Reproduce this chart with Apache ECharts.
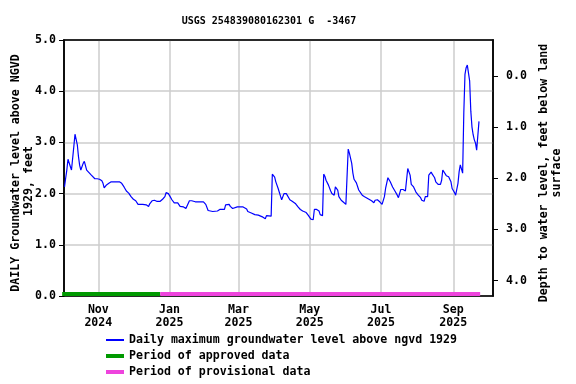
<!DOCTYPE html>
<html>
<head>
<meta charset="utf-8">
<script src="https://cdn.jsdelivr.net/npm/echarts@6/dist/echarts.min.js"></script>
<style>html,body{margin:0;padding:0;background:#fff}#c{width:576px;height:384px}</style>
</head>
<body>
<div id="c"></div>
<script>
const titleText = 'USGS 254839080162301 G  -3467';
const leftAxisLines = ['DAILY Groundwater level above NGVD', '1929, feet'];
const rightAxisName = 'Depth to water level, feet below land\nsurface';
const seriesName = 'Daily maximum groundwater level above ngvd 1929';
const approvedName = 'Period of approved data';
const provisionalName = 'Period of provisional data';

const dates = [
'2024-10-03','2024-10-04','2024-10-05','2024-10-06','2024-10-07','2024-10-08','2024-10-09','2024-10-10',
'2024-10-11','2024-10-12','2024-10-13','2024-10-14','2024-10-15','2024-10-16','2024-10-17','2024-10-18',
'2024-10-19','2024-10-20','2024-10-21','2024-10-22','2024-10-24','2024-10-26','2024-10-27','2024-10-29',
'2024-10-31','2024-11-02','2024-11-04','2024-11-05','2024-11-06','2024-11-08','2024-11-10','2024-11-12',
'2024-11-16','2024-11-19','2024-11-21','2024-11-23','2024-11-25','2024-11-27','2024-11-29','2024-12-01',
'2024-12-03','2024-12-05','2024-12-09','2024-12-12','2024-12-14','2024-12-15','2024-12-17','2024-12-19',
'2024-12-21','2024-12-24','2024-12-26','2024-12-28','2024-12-29','2024-12-31','2025-01-01','2025-01-02',
'2025-01-03','2025-01-05','2025-01-08','2025-01-10','2025-01-13','2025-01-15','2025-01-16','2025-01-18',
'2025-01-20','2025-01-23','2025-01-27','2025-01-30','2025-02-01','2025-02-03','2025-02-04','2025-02-07',
'2025-02-11','2025-02-13','2025-02-17','2025-02-18','2025-02-21','2025-02-22','2025-02-24','2025-02-25',
'2025-02-28','2025-03-05','2025-03-08','2025-03-09','2025-03-12','2025-03-15','2025-03-18','2025-03-20',
'2025-03-22','2025-03-24','2025-03-25','2025-03-29','2025-03-30','2025-04-01','2025-04-02','2025-04-04',
'2025-04-06','2025-04-07','2025-04-09','2025-04-11','2025-04-12','2025-04-14','2025-04-16','2025-04-19',
'2025-04-21','2025-04-23','2025-04-25','2025-04-28','2025-04-30','2025-05-02','2025-05-04','2025-05-05',
'2025-05-07','2025-05-09','2025-05-10','2025-05-12','2025-05-13','2025-05-14','2025-05-15','2025-05-17',
'2025-05-19','2025-05-20','2025-05-22','2025-05-23','2025-05-24','2025-05-25','2025-05-26','2025-05-28',
'2025-05-30','2025-06-01','2025-06-02','2025-06-03','2025-06-04','2025-06-05','2025-06-06','2025-06-07',
'2025-06-08','2025-06-10','2025-06-12','2025-06-13','2025-06-15','2025-06-17','2025-06-20','2025-06-23',
'2025-06-25','2025-06-26','2025-06-28','2025-06-30','2025-07-02','2025-07-03','2025-07-04','2025-07-05',
'2025-07-06','2025-07-07','2025-07-08','2025-07-09','2025-07-11','2025-07-13','2025-07-15','2025-07-16',
'2025-07-17','2025-07-18','2025-07-20','2025-07-22','2025-07-23','2025-07-24','2025-07-25','2025-07-26',
'2025-07-27','2025-07-29','2025-07-31','2025-08-02','2025-08-04','2025-08-05','2025-08-07','2025-08-08',
'2025-08-10','2025-08-11','2025-08-13','2025-08-14','2025-08-16','2025-08-17','2025-08-19','2025-08-21',
'2025-08-22','2025-08-23','2025-08-24','2025-08-26','2025-08-28','2025-08-29','2025-08-30','2025-08-31',
'2025-09-02','2025-09-03','2025-09-04','2025-09-05','2025-09-06','2025-09-07','2025-09-08','2025-09-09',
'2025-09-10','2025-09-11','2025-09-12','2025-09-13','2025-09-14','2025-09-15','2025-09-16','2025-09-17',
'2025-09-18','2025-09-19','2025-09-20','2025-09-21','2025-09-22','2025-09-23'
];
const levels = [
2.13,2.30,2.46,2.67,2.66,2.53,2.46,2.43,
2.92,3.16,3.13,2.95,2.72,2.55,2.46,2.49,
2.59,2.63,2.60,2.46,2.41,2.36,2.33,2.29,
2.29,2.28,2.25,2.20,2.11,2.17,2.20,2.23,
2.23,2.23,2.20,2.13,2.05,2.01,1.94,1.89,
1.86,1.79,1.79,1.78,1.75,1.80,1.86,1.87,
1.85,1.85,1.89,1.94,2.02,2.00,1.96,1.93,
1.88,1.82,1.82,1.75,1.74,1.71,1.73,1.86,
1.86,1.84,1.84,1.84,1.79,1.67,1.65,1.65,
1.66,1.69,1.69,1.78,1.79,1.75,1.71,1.74,
1.74,1.74,1.70,1.65,1.62,1.59,1.58,1.56,
1.54,1.51,1.57,1.56,2.38,2.32,2.23,2.10,
1.95,1.88,2.00,2.00,1.97,1.88,1.85,1.80,
1.74,1.69,1.66,1.63,1.57,1.50,1.49,1.69,
1.69,1.66,1.59,1.57,2.38,2.34,2.26,2.17,
2.05,2.00,1.97,2.13,2.16,2.07,1.94,1.87,
1.83,1.79,1.77,2.87,2.79,2.82,2.59,2.40,
2.28,2.21,2.07,2.05,1.97,1.94,1.90,1.86,
1.82,1.87,1.88,1.84,1.79,1.77,1.94,2.10,
2.11,2.31,2.33,2.23,2.13,2.05,1.97,1.92,
2.00,2.08,2.08,2.05,2.05,2.49,2.48,2.36,
2.18,2.13,2.03,1.97,1.92,1.87,1.85,1.94,
1.94,2.36,2.42,2.38,2.31,2.23,2.18,2.18,
2.26,2.46,2.47,2.35,2.33,2.31,2.23,2.10,
2.02,1.97,2.00,2.20,2.43,2.56,2.56,2.40,
3.58,4.33,4.46,4.51,4.51,4.20,3.61,3.30,
3.15,3.05,2.99,2.85,2.87,3.41
];

const approvedPeriod = ['2024-10-01', '2024-12-24'];
const provisionalPeriod = ['2024-12-24', '2025-09-24'];

const xRange = ['2024-10-02 14:00:00', '2025-10-05 00:00:00'];
const xTickDates = ['2024-11-01','2025-01-01','2025-03-01','2025-05-01','2025-07-01','2025-09-01'];
const xTickLabels = ['Nov\n2024','Jan\n2025','Mar\n2025','May\n2025','Jul\n2025','Sep\n2025'];
const leftTicks = [0, 1, 2, 3, 4, 5];
const rightTicks = [0, 1, 2, 3, 4];
const depthOffset = 4.30; // depth = landSurface - level

const parse = s => +echarts.number.parseDate(s);
const xTickVals = xTickDates.map(parse);

const FONT = 'DejaVu Sans Mono';
const txt = { fontFamily: FONT, fontWeight: 'bold', fontSize: 11.6, color: '#000' };

const chart = echarts.init(document.getElementById('c'), null, { renderer: 'canvas' });
chart.setOption({
  animation: false,
  backgroundColor: '#fff',
  title: {
    text: titleText, left: 264, top: 11, textAlign: 'center',
    textStyle: { fontFamily: FONT, fontWeight: 'bold', fontSize: 10, color: '#000' }
  },
  grid: {
    left: 64, right: 83, top: 40, bottom: 88, show: true, borderColor: '#000', borderWidth: 1.5,
    backgroundColor: 'transparent', containLabel: false, outerBoundsMode: 'none'
  },
  legend: [
    { data: [seriesName], orient: 'vertical', left: 106, top: 334, itemWidth: 18, itemHeight: 2, icon: 'rect', textStyle: txt, padding: 0 },
    { data: [approvedName], orient: 'vertical', left: 106, top: 350, itemWidth: 18, itemHeight: 4, icon: 'rect', textStyle: txt, padding: 0 },
    { data: [provisionalName], orient: 'vertical', left: 106, top: 366, itemWidth: 18, itemHeight: 4, icon: 'rect', textStyle: txt, padding: 0 }
  ],
  xAxis: [
    {
      type: 'value', position: 'bottom',
      min: parse(xRange[0]), max: parse(xRange[1]),
      axisLine: { onZero: false, lineStyle: { color: '#000', width: 1.5 } },
      axisTick: { show: true, inside: true, length: 3, customValues: xTickVals, lineStyle: { color: '#000' } },
      splitLine: { show: true, lineStyle: { color: '#cccccc', width: 1.5 } },
      axisLabel: {
        customValues: xTickVals, margin: 7, lineHeight: 13, ...txt,
        formatter: function (v) { const i = xTickVals.indexOf(v); return i >= 0 ? xTickLabels[i] : ''; }
      }
    },
    {
      type: 'value', position: 'top',
      min: parse(xRange[0]), max: parse(xRange[1]),
      axisLine: { show: true, onZero: false, lineStyle: { color: '#000', width: 1.5 } },
      axisTick: { show: false }, axisLabel: { show: false }, splitLine: { show: false }
    }
  ],
  yAxis: [
    {
      type: 'value', min: 0, max: 5, interval: 1, position: 'left',
      name: '{a|' + leftAxisLines[0] + '}\n{b|' + leftAxisLines[1] + '}',
      nameLocation: 'middle', nameRotate: 90, nameGap: 29, nameMoveOverlap: false,
      nameTextStyle: {
        ...txt, lineHeight: 13, padding: [0, 10, 0, 0],
        rich: {
          a: { ...txt, lineHeight: 13 },
          b: { ...txt, lineHeight: 13, padding: [0, 16, 0, 0] }
        }
      },
      axisLine: { show: true, onZero: false, lineStyle: { color: '#000', width: 1.5 } },
      axisTick: { show: true, length: 5, lineStyle: { color: '#000' } },
      splitLine: { show: true, lineStyle: { color: '#cccccc', width: 1.5 } },
      axisLabel: { ...txt, margin: 8, formatter: v => leftTicks.includes(v) ? v.toFixed(1) : '' }
    },
    {
      type: 'value', min: depthOffset - 5, max: depthOffset, inverse: true, position: 'right',
      name: rightAxisName, nameLocation: 'middle', nameRotate: 90, nameGap: 44,
      nameTextStyle: { ...txt, lineHeight: 13, padding: [0, 10, 0, 0] },
      axisLine: { show: true, onZero: false, lineStyle: { color: '#000', width: 1.5 } },
      axisTick: { show: true, length: 5, customValues: rightTicks, lineStyle: { color: '#000' } },
      splitLine: { show: false },
      axisLabel: { ...txt, margin: 13, customValues: rightTicks, formatter: v => v.toFixed(1) }
    },
    { type: 'value', show: false, min: -0.04, max: 4.96 }
  ],
  series: [
    {
      name: seriesName, type: 'line', xAxisIndex: 0, yAxisIndex: 0,
      data: dates.map((d, i) => [parse(d), levels[i]]),
      showSymbol: false, symbol: 'none',
      lineStyle: { color: '#0000ff', width: 1.2 }, itemStyle: { color: '#0000ff' }, z: 3
    },
    {
      name: approvedName, type: 'line', yAxisIndex: 2,
      data: approvedPeriod.map(d => [parse(d), 0]), symbol: 'none',
      lineStyle: { color: '#009900', width: 4 }, itemStyle: { color: '#009900' }, z: 4
    },
    {
      name: provisionalName, type: 'line', yAxisIndex: 2,
      data: provisionalPeriod.map(d => [parse(d), 0]), symbol: 'none',
      lineStyle: { color: '#ee44dd', width: 4 }, itemStyle: { color: '#ee44dd' }, z: 4
    }
  ]
});
</script>
</body>
</html>
